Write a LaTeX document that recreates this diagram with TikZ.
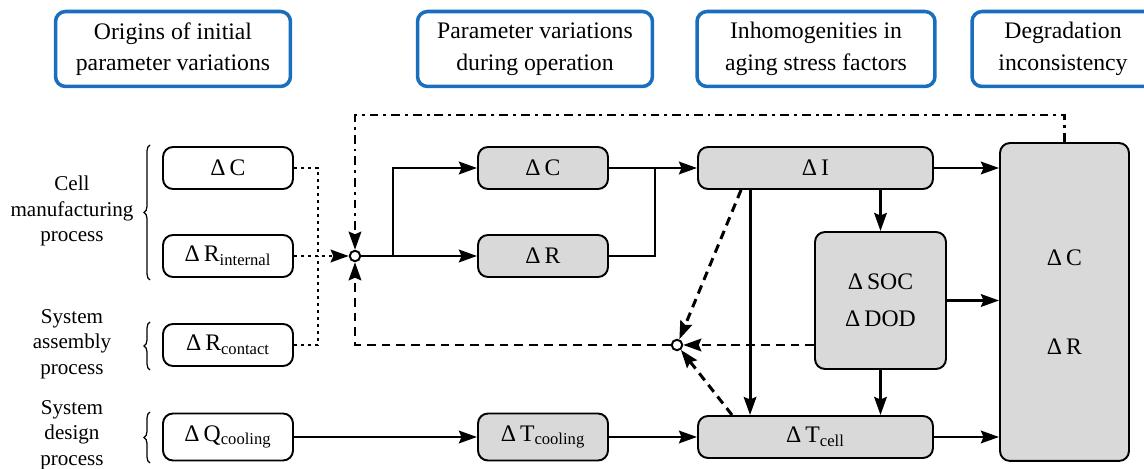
\documentclass[tikz,border=0pt]{standalone}
\usepackage{fontspec}
\setmainfont{Liberation Serif}
\usetikzlibrary{arrows.meta,decorations.pathreplacing}

\definecolor{hdrblue}{RGB}{25,110,190}
\definecolor{boxgray}{RGB}{217,217,217}

\tikzset{
  hdr/.style={draw=hdrblue, line width=2pt, rounded corners=0.2cm, minimum height=1.5cm,
    align=center, inner sep=0pt, font=\fontsize{13.5}{18}\selectfont},
  pbox/.style={draw, line width=1.1pt, rounded corners=0.2cm, minimum width=2.6cm,
    minimum height=0.84cm, inner sep=0pt, align=center},
  gbox/.style={pbox, fill=boxgray},
  proc/.style={align=center, font=\fontsize{12}{14.6}\selectfont},
  jn/.style={circle, draw, fill=white, line width=1.1pt, minimum size=0.21cm, inner sep=0pt},
  flow/.style={line width=1.7pt},
  tip/.style={-{Stealth[length=0.36cm,width=0.25cm,inset=0.05cm]}},
  dotline/.style={flow, dash pattern=on 1.7pt off 2.3pt},
  dashline/.style={flow, dash pattern=on 5pt off 3.4pt},
  dashdotline/.style={flow, dash pattern=on 5pt off 2.8pt on 1.7pt off 2.8pt},
  bracket/.style={line width=0.7pt, decorate, decoration={brace, amplitude=0.12cm}},
}

\begin{document}
\begin{tikzpicture}[x=0.02cm, y=-0.02cm, font=\fontsize{13.5}{14.5}\selectfont]
  \useasboundingbox (0,0) rectangle (1144,469);

  % headers
  \node[hdr, minimum width=4.7cm] (hOrig) at (173,49) {Origins of initial\\parameter variations};
  \node[hdr, minimum width=4.7cm] (hOper) at (535,49) {Parameter variations\\during operation};
  \node[hdr, minimum width=4.76cm] (hStress) at (816,49) {Inhomogenities in\\aging stress factors};
  \node[hdr, minimum width=3.64cm] (hDegr) at (1063,49) {Degradation\\inconsistency};

  % process labels
  \node[proc] (lCell) at (72,211) {Cell\\manufacturing\\process};
  \node[proc] (lAssy) at (72,344) {System\\assembly\\process};
  \node[proc] (lDesign) at (72,435) {System\\design\\process};
  \draw[bracket] (150,280) -- (150,145);
  \draw[bracket] (150,370) -- (150,322);
  \draw[bracket] (150,463) -- (150,412);

  % initial variations
  \node[pbox] (iC) at (228,168) {Δ\,C};
  \node[pbox] (iRint) at (228,256) {Δ\,R\textsubscript{internal}};
  \node[pbox] (iRcon) at (228,345) {Δ\,R\textsubscript{contact}};
  \node[pbox, minimum height=0.94cm] (iQ) at (228,437) {Δ\,Q\textsubscript{cooling}};

  % junctions
  \node[jn] (j1) at (355,256) {};
  \node[jn] (j2) at (677,345) {};

  % operation variations
  \node[gbox] (oC) at (543,168) {Δ\,C};
  \node[gbox] (oR) at (543,256) {Δ\,R};
  \node[gbox, minimum height=0.94cm] (oT) at (543,437) {Δ\,T\textsubscript{cooling}};

  % stress factors
  \node[gbox, minimum width=4.7cm] (sI) at (815.5,168) {Δ\,I};
  \node[gbox, minimum width=4.7cm] (sT) at (815.5,437) {Δ\,T\textsubscript{cell}};
  \node[gbox, minimum width=2.62cm, minimum height=2.74cm] (sSoc) at (880.5,300.5)
    {Δ\,SOC\\[6.5pt]Δ\,DOD};

  % degradation
  \node[gbox, minimum width=2.58cm, minimum height=6.36cm] (dCR) at (1064.5,302)
    {Δ\,C\\[36pt]Δ\,R};

  \coordinate (dotx) at (318,256);
  \coordinate (split) at (393,256);
  \coordinate (merge) at (655,168);
  \coordinate (fbTop) at (355,115);
  \coordinate (fbBot) at (355,345);

  % dotted inputs
  \draw[dotline] (iC.east) -| (dotx);
  \draw[dotline] (iRcon.east) -| (dotx);
  \draw[dotline, tip] (iRint.east) -- (j1);

  % feedback loops
  \draw[dashdotline, tip] (dCR.north) |- (fbTop) -- (j1);
  \draw[dashline, tip] (j2) -- (fbBot) -- (j1);

  % solid paths
  \draw[flow, tip] (j1) -- (oR);
  \draw[flow, tip] (split) |- (oC);
  \draw[flow, tip] (oC) -- (sI);
  \draw[flow] (oR.east) -| (merge);
  \draw[flow, tip] (iQ) -- (oT);
  \draw[flow, tip] (oT.east) -- (oT.east -| sT.west);
  \draw[flow, tip] (sI.east) -- (sI.east -| dCR.west);
  \draw[flow, tip] (sSoc.east) -- (sSoc.east -| dCR.west);
  \draw[flow, tip] (sT.east) -- (sT.east -| dCR.west);
  \draw[flow, tip] (sI.south -| sSoc) -- (sSoc.north);
  \draw[flow, tip] (sSoc.south) -- (sT.north -| sSoc);
  \draw[flow, tip] ([xshift=1.06cm]sI.south west) -- ([xshift=1.06cm]sT.north west);

  % dashed into j2
  \draw[dashline, tip] ([xshift=0.88cm]sI.south west) -- (j2);
  \draw[dashline, tip] (sSoc.west |- j2) -- (j2);
  \draw[dashline, tip] ([xshift=0.7cm]sT.north west) -- (j2);
\end{tikzpicture}
\end{document}
